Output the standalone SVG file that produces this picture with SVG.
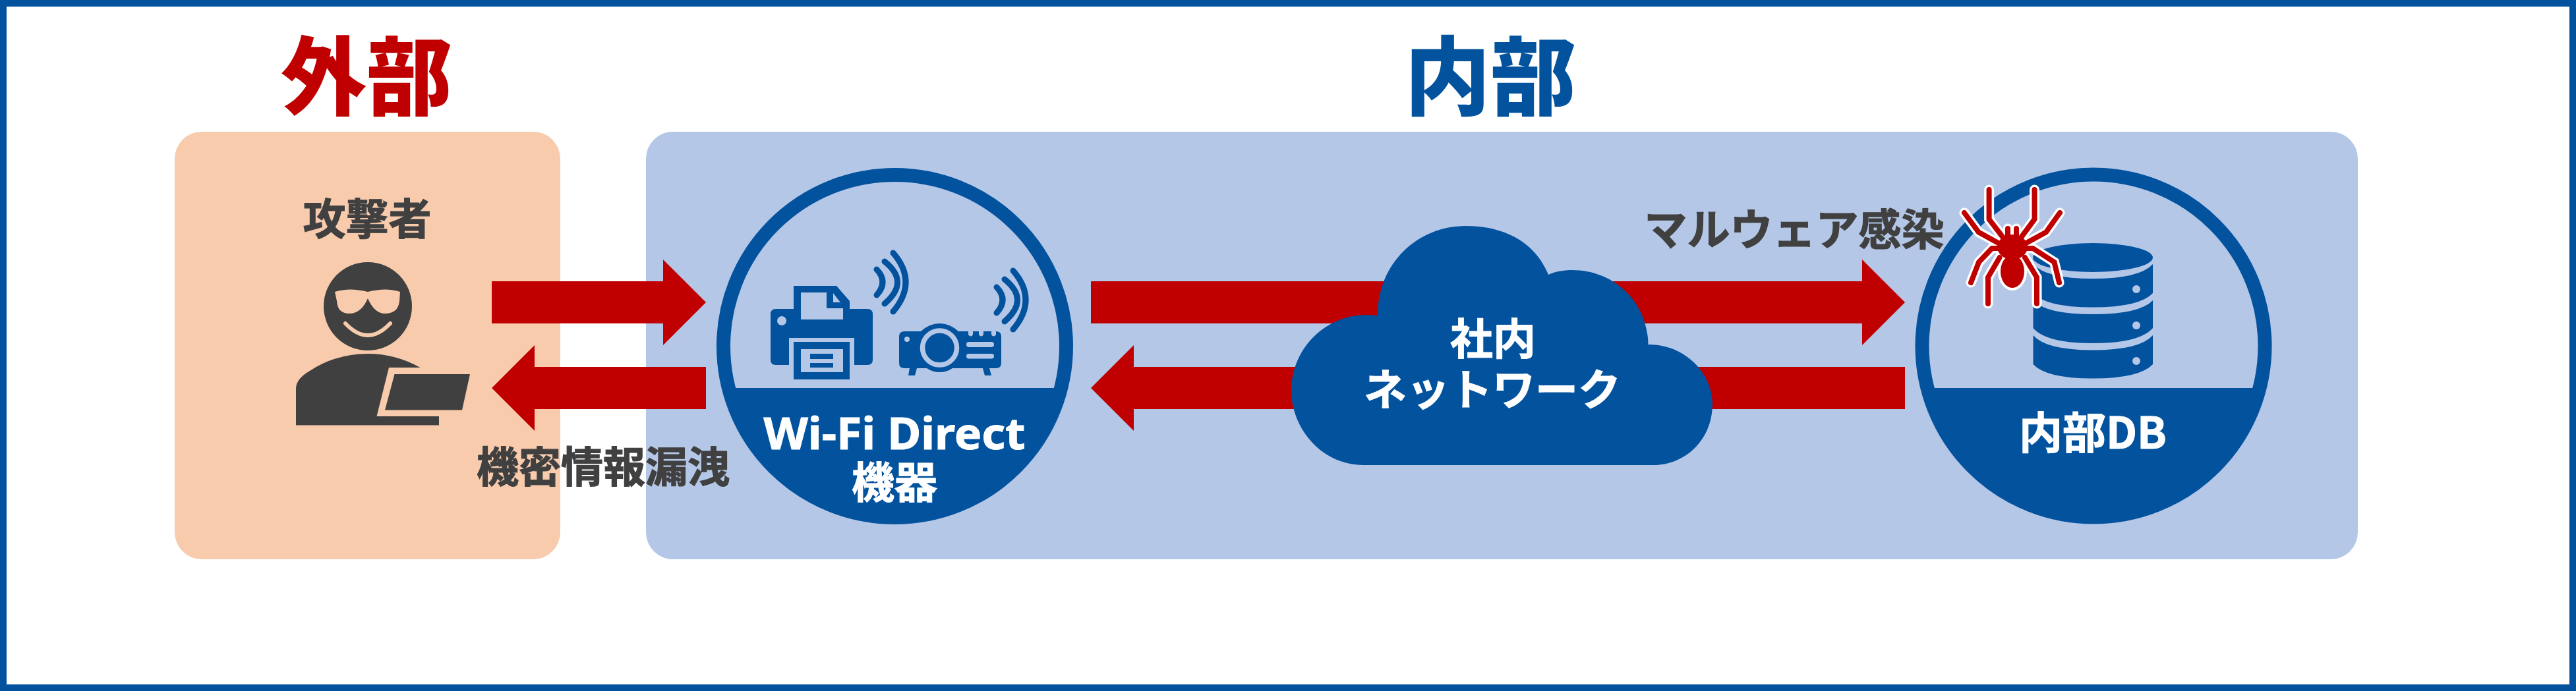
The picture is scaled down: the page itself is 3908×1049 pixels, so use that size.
<svg xmlns="http://www.w3.org/2000/svg" width="3908" height="1049" viewBox="0 0 3908 1049">
<style>
text{font-family:"Noto Sans CJK JP","Noto Sans",sans-serif;font-weight:700;text-anchor:middle}
.dk{fill:#404040;stroke:#404040;stroke-width:1.2px;font-size:65px}
.wt{fill:#fff;stroke:#fff;stroke-width:1px;font-size:65px}
.h{font-size:130px;font-weight:900}
.b{fill:#02529e}
.l{fill:#b4c7e7}
.a{fill:#c00000}
.wave{fill:none;stroke:#02529e;stroke-width:9;stroke-linecap:round}
.sw{fill:none;stroke:#fff;stroke-width:15;stroke-linejoin:miter;stroke-linecap:round}
.sr{fill:none;stroke:#c00000;stroke-width:8;stroke-linejoin:miter;stroke-linecap:round}
</style>
<defs>
<path id="waves" d="M1355,384Q1393,428 1355,473M1342,397Q1381,428 1342,461M1330,409Q1348,428 1330,448"/>
<path id="legs" d="M3017.6,288V333L3040,362M3086.5,288V333L3065,362M2980,323L3001.7,352.5L3033.5,370M3125,323L3104,352.5L3072,370M3030,377H3022L3002,398L2990,429M3076,377H3084L3116.5,398L3124,429M3033.5,391L3016,421V461M3072,391L3090,421V461M3046,347V358M3059,347V358"/>
</defs>
<rect width="3908" height="1049" fill="#fff"/>
<rect x="5" y="5" width="3898" height="1039" fill="none" stroke="#02529e" stroke-width="10"/>
<g id="zone-external">
<rect x="265" y="200" width="585" height="649" rx="41" fill="#f8cbad"/>
<text class="h" x="556" y="164" fill="#c00000">外部</text>
</g>
<g id="zone-internal">
<rect x="980" y="200" width="2597" height="649" rx="41" fill="#b4c7e7"/>
<text class="h" x="2261" y="164" fill="#02529e">内部</text>
</g>
<g id="connectors">
<polygon class="a" points="746,427 1006,427 1006,394 1071,459 1006,524 1006,491 746,491"/>
<polygon class="a" points="1071,557 811,557 811,524 746,589 811,654 811,621 1071,621"/>
<polygon class="a" points="1655,427 2825,427 2825,394 2890,459 2825,524 2825,491 1655,491"/>
<polygon class="a" points="2890,557 1720,557 1720,524 1655,589 1720,654 1720,621 2890,621"/>
</g>
<g id="attacker">
<text class="dk" x="557" y="356">攻撃者</text>
<circle cx="558" cy="465" r="67" fill="#404040"/>
<path d="M508,443Q530,436 558,443Q586,436 607,443L606,457Q604,476 584,476Q568,476 558,453Q548,476 530,476Q512,476 511,457Z" fill="#f8cbad"/>
<path d="M524,491Q558,527 592,491" fill="none" stroke="#f8cbad" stroke-width="6" stroke-linecap="round"/>
<path d="M449,590Q449,575 470,563Q510,537 558,537Q600,537 637.500,558H590L571.500,632H666V645.600H449Z" fill="#404040"/>
<polygon points="598.5,568 713,568 701,622.6 584,622.6" fill="#404040"/>
</g>
<g id="leak-label"><text class="dk" x="915" y="732" style="font-size:64px">機密情報漏洩</text></g>
<g id="wifi-device">
<circle cx="1357.5" cy="525.5" r="260" fill="none" stroke="#02529e" stroke-width="21"/>
<path class="b" d="M1105.400,589A260,260 0 0 0 1609.600,589Z"/>
<path class="b" d="M1204,469V434H1269L1289,457V469H1316Q1324,469 1324,477V546Q1324,554 1316,554H1296V513H1197V554H1177Q1169,554 1169,546V477Q1169,469 1177,469Z"/>
<path class="l" d="M1215,444H1254V468H1279V485H1215ZM1264,445L1275,459H1264Z"/>
<circle class="l" cx="1186" cy="487" r="7"/>
<rect class="b" x="1204" y="519" width="85" height="57"/>
<rect class="l" x="1215" y="530" width="64" height="35"/>
<rect class="b" x="1229" y="537" width="35" height="8"/>
<rect class="b" x="1229" y="551" width="35" height="7"/>
<use href="#waves" class="wave"/>
<use href="#waves" class="wave" transform="translate(182,27)"/>
<path class="b" d="M1372,503H1397Q1410,491 1425.500,491Q1441,491 1454,503H1511Q1519,503 1519,511V551Q1519,559 1511,559H1445Q1436,565 1425.500,565Q1415,565 1406,559H1372Q1364,559 1364,551V511Q1364,503 1372,503ZM1380,559H1391L1388,570H1378ZM1491,559H1501L1504,570H1494Z"/>
<circle cx="1425.5" cy="528" r="26" fill="none" stroke="#b4c7e7" stroke-width="7.5"/>
<circle class="l" cx="1376" cy="515" r="4"/>
<rect class="l" x="1466" y="519" width="42" height="8" rx="4"/>
<rect class="l" x="1466" y="537" width="42" height="7.5" rx="3.7"/>
<path class="l" d="M1469,503h7v5q-3.500,5-7,0ZM1485,503h7v5q-3.500,5-7,0ZM1504,503h7v5q-3.500,5-7,0Z"/>
<text class="wt" x="1357" y="682" style="font-size:66px;font-family:'Noto Sans',sans-serif" textLength="397" lengthAdjust="spacingAndGlyphs">Wi-Fi Direct</text>
<text class="wt" x="1357" y="756">機器</text>
</g>
<g id="network">
<path class="b" d="M2068,706C2005,706 1959,650 1959,593C1959,530 2010,478 2073,478L2090,479C2090,400 2150,343 2224,343C2285,343 2330,370 2349,417C2360,412 2372,410 2385,410C2450,410 2500,460 2500.500,523C2560,523 2598,570 2598,613C2598,665 2560,706 2507,706Z"/>
<text class="wt" x="2265" y="538">社内</text>
<text class="wt" x="2264" y="615">ネットワーク</text>
</g>
<g id="internal-db">
<circle cx="3176" cy="525" r="260" fill="none" stroke="#02529e" stroke-width="21"/>
<path class="b" d="M2924,589A260,260 0 0 0 3428,589Z"/>
<ellipse class="b" cx="3175" cy="391" rx="91" ry="22"/>
<path class="b" d="M3084.500,401Q3104,423 3175,423Q3246,423 3266,401V445Q3246,466.500 3175,466.500Q3104,466.500 3084.500,445Z"/>
<path class="b" d="M3084.500,456Q3104,477 3175,477Q3246,477 3266,456V498Q3246,521 3175,521Q3104,521 3084.500,498Z"/>
<path class="b" d="M3084.500,509Q3104,531.500 3175,531.500Q3246,531.500 3266,509V553Q3246,574.500 3175,574.500Q3104,574.500 3084.500,553Z"/>
<circle class="l" cx="3241" cy="439" r="6"/>
<circle class="l" cx="3241" cy="494" r="6"/>
<circle class="l" cx="3241" cy="548" r="6"/>
<text class="wt" x="3175" y="681" style="font-size:66px">内部DB</text>
</g>
<g id="malware-label"><text class="dk" x="2722" y="372">マルウェア感染</text></g>
<g id="spider">
<use href="#legs" class="sw"/>
<ellipse cx="3053" cy="412" rx="22" ry="29" fill="#fff"/>
<use href="#legs" class="sr"/>
<ellipse cx="3053" cy="412" rx="18" ry="25" fill="#c00000"/>
<ellipse cx="3053" cy="375" rx="23" ry="19" fill="#c00000"/>
</g>
</svg>
